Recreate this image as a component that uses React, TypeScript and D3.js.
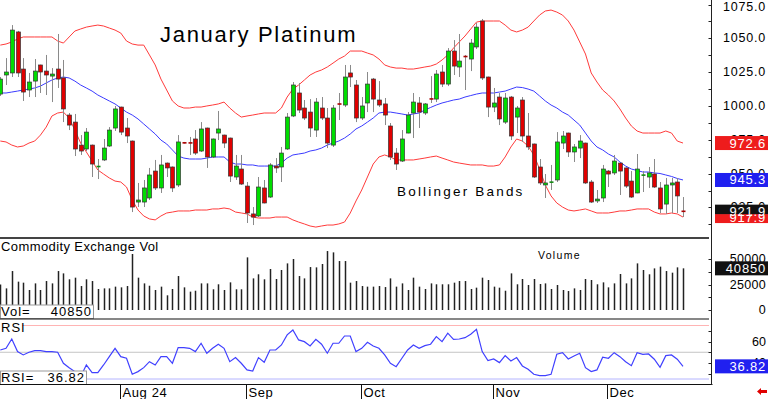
import React from 'react';
import * as d3 from 'd3';

// January Platinum daily candles (Jul .. Dec 2024)
const opens = [
  1008.8, 1022.9, 1024.4, 1054.7, 1027.3, 1011.8, 1018.4, 1030.3, 1025.8, 1022.1,
  1027.3, 1020.7, 993.3, 988.1, 971.1, 968.2, 971.1, 954.9, 960.1, 970.4,
  983.7, 999.2, 983.7, 974.1, 929.0, 929.0, 932.0, 951.9, 939.4, 957.8,
  954.9, 941.6, 972.9, 972.8, 975.6, 966.7, 983.7, 962.3, 980.0, 978.5,
  976.3, 947.5, 953.4, 940.8, 920.2, 918.7, 939.4, 932.7, 955.6, 954.9,
  968.2, 992.6, 1009.6, 998.5, 995.5, 982.2, 998.5, 991.1, 971.1, 1001.7,
  1000.7, 1024.4, 1015.5, 991.1, 1002.2, 1019.9, 1004.4, 1001.5, 985.2, 965.2,
  959.3, 980.0, 994.8, 1002.2, 994.8, 1005.4, 1005.1, 1025.1, 1016.2, 1040.6,
  1028.8, 1036.9, 1034.7, 1043.6, 1062.8, 1021.4, 999.2, 1006.6, 988.1, 1006.6,
  991.8, 1004.4, 977.8, 971.9, 954.9, 941.6, 943.6, 945.3, 972.6, 980.0,
  966.0, 968.9, 972.6, 943.8, 929.8, 932.0, 951.9, 950.5, 957.8, 954.2,
  944.5, 935.7, 948.8, 947.5, 949.7, 939.4, 927.5, 941.6, 943.8, 922.4,
];
const highs = [
  1021.4, 1035.4, 1059.8, 1055.5, 1035.4, 1024.4, 1034.7, 1030.5, 1037.7, 1028.0,
  1053.2, 1034.0, 994.8, 994.1, 978.5, 983.7, 971.5, 960.8, 975.6, 984.4,
  1000.0, 999.5, 991.1, 974.5, 943.1, 945.3, 954.2, 960.1, 963.8, 958.2,
  955.3, 978.5, 973.4, 977.1, 982.2, 988.1, 984.0, 975.9, 996.3, 978.8,
  976.6, 963.8, 963.8, 943.8, 925.3, 947.5, 945.3, 957.8, 961.5, 969.7,
  994.8, 1017.7, 1017.0, 1004.4, 1005.1, 1005.9, 1006.6, 998.5, 1000.7, 1009.6,
  1030.3, 1030.3, 1019.2, 1006.6, 1025.1, 1020.7, 1018.4, 1005.9, 987.4, 968.9,
  982.2, 995.5, 1009.6, 1006.6, 1002.2, 1022.1, 1026.6, 1030.3, 1042.8, 1048.7,
  1053.2, 1037.7, 1049.5, 1061.3, 1064.3, 1021.7, 1013.3, 1009.6, 1009.6, 1007.4,
  1000.0, 1006.6, 994.8, 972.2, 960.8, 949.7, 956.4, 980.7, 981.5, 980.3,
  971.9, 978.5, 972.9, 945.3, 937.9, 956.4, 952.7, 963.8, 958.2, 954.5,
  951.9, 964.5, 951.9, 954.9, 960.8, 943.8, 946.8, 946.8, 946.8, 932.7,
];
const lows = [
  1007.4, 1015.5, 1021.4, 1021.4, 1003.7, 1006.6, 1006.6, 1009.6, 1008.1, 1002.9,
  1013.3, 988.1, 982.2, 963.0, 963.8, 966.7, 947.5, 946.0, 959.3, 969.7,
  981.5, 978.5, 972.6, 921.6, 925.3, 925.3, 930.5, 937.9, 935.7, 947.5,
  936.4, 940.1, 972.2, 963.8, 963.8, 966.0, 954.2, 961.5, 974.8, 968.9,
  943.8, 945.3, 941.6, 913.5, 912.0, 917.9, 928.0, 932.0, 950.5, 943.8,
  967.5, 991.8, 994.8, 989.6, 977.1, 977.1, 989.6, 968.9, 969.7, 989.6,
  999.2, 1014.0, 988.1, 989.6, 995.5, 995.5, 999.2, 985.9, 960.1, 952.7,
  958.6, 979.8, 976.3, 983.7, 993.3, 1002.2, 1002.9, 1014.0, 1014.7, 1022.9,
  1021.4, 1011.8, 1025.8, 1042.1, 1019.2, 991.8, 995.5, 985.9, 986.7, 974.8,
  980.0, 973.4, 967.5, 946.8, 941.6, 932.0, 937.9, 943.8, 968.2, 962.3,
  958.6, 961.5, 942.3, 928.3, 928.3, 929.0, 940.1, 949.0, 934.2, 939.4,
  932.0, 935.5, 936.4, 939.4, 939.4, 920.9, 920.2, 920.9, 920.9, 917.9,
];
const closes = [
  1019.9, 1025.1, 1056.1, 1024.4, 1010.3, 1017.7, 1025.8, 1025.1, 1022.9, 1023.6,
  1019.9, 997.8, 985.9, 968.2, 966.7, 980.7, 957.1, 955.6, 968.9, 982.2,
  997.8, 980.7, 977.8, 925.3, 930.5, 939.4, 949.0, 939.4, 956.4, 954.2,
  939.4, 973.4, 972.6, 972.6, 965.2, 983.0, 962.3, 975.6, 983.0, 972.6,
  948.2, 955.6, 942.3, 920.9, 917.9, 940.1, 928.3, 956.4, 954.2, 965.2,
  991.8, 1015.5, 997.0, 991.1, 983.7, 1002.9, 991.1, 972.6, 998.5, 1001.2,
  1021.4, 1021.4, 991.1, 1000.0, 1016.2, 1005.1, 1000.7, 993.3, 962.3, 957.1,
  975.6, 993.3, 1002.9, 995.5, 1001.5, 1005.0, 1023.6, 1016.2, 1040.6, 1029.5,
  1033.2, 1036.2, 1046.5, 1058.3, 1020.7, 999.2, 1002.2, 990.4, 1005.9, 977.8,
  998.5, 977.8, 969.7, 947.5, 943.1, 943.1, 943.8, 973.4, 977.8, 966.0,
  969.7, 974.1, 943.1, 929.0, 931.2, 953.4, 949.7, 959.3, 951.9, 940.8,
  932.7, 953.4, 949.0, 950.5, 940.1, 923.9, 941.6, 943.1, 933.5, 921.9,
];

// Bollinger bands as drawn on the chart
const bbUpper = [
  1045.0, 1045.8, 1047.3, 1049.5, 1051.0, 1051.0, 1051.0, 1051.0, 1051.0, 1051.0,
  1048.0, 1046.5, 1051.0, 1055.4, 1056.9, 1058.3, 1059.1, 1059.8, 1059.1, 1057.6,
  1056.1, 1053.9, 1048.0, 1045.8, 1045.0, 1045.0, 1037.7, 1030.3, 1019.9, 1011.8,
  1003.7, 1000.0, 998.5, 998.5, 999.2, 999.2, 1000.0, 1000.7, 1001.5, 1002.9,
  998.5, 994.8, 991.8, 992.6, 993.3, 994.1, 994.8, 994.8, 994.8, 998.5,
  1006.6, 1012.5, 1015.5, 1019.2, 1022.9, 1025.1, 1026.6, 1028.8, 1031.7, 1034.7,
  1036.9, 1040.6, 1040.6, 1040.6, 1039.1, 1037.7, 1034.7, 1030.3, 1028.8, 1028.0,
  1028.0, 1027.3, 1027.3, 1028.0, 1028.8, 1029.5, 1031.0, 1034.0, 1037.7, 1042.8,
  1047.3, 1051.7, 1056.9, 1062.0, 1062.8, 1062.8, 1062.8, 1062.8, 1059.8, 1056.1,
  1054.7, 1056.1, 1058.3, 1062.8, 1067.2, 1070.2, 1070.9, 1069.4, 1067.2, 1062.8,
  1056.1, 1047.3, 1038.4, 1024.4, 1017.7, 1011.8, 1008.1, 1003.7, 997.8, 991.1,
  985.2, 981.5, 980.0, 980.0, 980.0, 980.0, 981.5, 980.0, 974.1, 972.6,
];
const bbMiddle = [
  1009.6, 1009.6, 1010.3, 1011.0, 1011.8, 1012.5, 1013.3, 1014.7, 1017.0, 1019.2,
  1020.7, 1021.4, 1020.7, 1018.4, 1015.5, 1013.3, 1011.0, 1008.1, 1005.9, 1003.7,
  1001.5, 998.5, 995.5, 993.3, 990.4, 986.7, 983.0, 979.3, 974.8, 971.9,
  967.5, 963.0, 961.5, 960.8, 960.8, 960.8, 961.5, 962.3, 962.3, 962.3,
  958.6, 957.1, 957.1, 956.4, 956.4, 955.6, 955.6, 955.6, 955.6, 957.8,
  961.5, 963.8, 964.5, 965.2, 966.7, 967.5, 968.9, 971.1, 972.6, 974.1,
  976.3, 979.3, 983.0, 985.2, 988.1, 991.1, 994.8, 995.5, 995.5, 994.8,
  994.1, 993.3, 994.1, 994.8, 997.0, 998.9, 1000.7, 1002.2, 1003.3, 1004.4,
  1005.1, 1006.6, 1007.7, 1008.8, 1009.6, 1009.6, 1009.6, 1010.3, 1011.0, 1012.5,
  1014.0, 1013.6, 1012.5, 1011.0, 1007.4, 1003.7, 1000.7, 998.5, 995.5, 993.3,
  989.6, 985.9, 980.0, 974.1, 969.7, 967.5, 964.5, 962.3, 958.6, 955.6,
  953.4, 952.3, 951.2, 951.2, 950.5, 950.1, 949.0, 947.9, 946.4, 945.3,
];
const bbLower = [
  974.1, 973.4, 971.1, 969.7, 970.4, 972.6, 974.1, 978.5, 984.4, 992.6,
  994.8, 995.5, 991.1, 982.2, 972.6, 966.0, 959.3, 952.7, 949.7, 946.8,
  944.5, 943.8, 940.1, 930.5, 923.1, 918.7, 916.5, 915.8, 918.7, 920.9,
  921.6, 922.4, 922.4, 922.4, 923.1, 923.1, 923.1, 923.9, 923.9, 924.6,
  923.9, 921.6, 920.9, 920.2, 917.9, 917.2, 917.2, 917.2, 917.9, 917.9,
  917.9, 915.8, 914.2, 912.8, 911.3, 910.5, 911.3, 912.0, 912.0, 912.8,
  914.2, 920.9, 929.8, 937.9, 947.5, 957.1, 962.3, 963.8, 962.3, 960.1,
  960.1, 960.1, 960.1, 960.8, 961.5, 962.3, 963.0, 961.5, 960.1, 958.6,
  957.8, 957.1, 956.4, 956.4, 956.4, 955.6, 955.6, 956.4, 962.3, 969.7,
  975.6, 974.1, 970.4, 963.8, 953.4, 941.6, 933.5, 928.3, 925.3, 923.1,
  922.4, 923.1, 923.9, 922.4, 920.9, 920.9, 920.9, 921.6, 922.4, 922.4,
  923.1, 923.9, 923.9, 923.9, 921.6, 920.2, 920.2, 920.9, 920.2, 917.9,
];

const volumes = [
  25000, 21200, 38200, 27800, 26800, 19600, 26100, 19600, 28400, 26100,
  38200, 35900, 30100, 31700, 23500, 30100, 28400, 20600, 21200, 21200,
  22900, 22200, 23500, 54900, 31700, 26100, 23800, 19600, 22900, 14400,
  20600, 33300, 22200, 18000, 18900, 26100, 26100, 20300, 25200, 19600,
  27100, 20300, 20300, 51600, 31000, 35000, 30100, 40200, 30400, 39200,
  45700, 50000, 33300, 31000, 42100, 41800, 45100, 57800, 56500, 48000,
  48000, 26800, 28400, 23500, 22900, 22900, 23500, 22500, 31000, 22900,
  26100, 19600, 31700, 22900, 20600, 26100, 25200, 25200, 25200, 26800,
  28400, 28400, 20600, 21900, 31700, 29400, 22900, 21900, 18900, 35900,
  25200, 30400, 24500, 30400, 25500, 26100, 20600, 24500, 19600, 18600,
  21200, 19600, 30400, 29400, 25200, 27100, 22200, 26100, 35300, 26100,
  31000, 45700, 39200, 35000, 40800, 42500, 38200, 36600, 41800, 40850,
];

const rsi = [
  52.1, 53.7, 62.4, 50.6, 47.5, 50.0, 51.5, 51.5, 50.6, 50.6,
  50.0, 39.7, 35.6, 31.9, 27.2, 38.1, 30.9, 30.9, 38.1, 45.9,
  53.7, 45.9, 44.4, 29.4, 31.9, 35.6, 41.2, 38.1, 45.9, 45.9,
  39.7, 54.3, 54.3, 53.7, 50.6, 58.4, 49.1, 53.7, 57.5, 53.7,
  41.2, 45.0, 39.7, 33.5, 32.5, 45.0, 40.7, 52.1, 52.1, 56.8,
  66.2, 70.8, 61.5, 59.9, 55.9, 62.1, 57.5, 49.1, 58.4, 58.4,
  65.2, 65.2, 50.6, 53.7, 59.3, 55.9, 53.7, 47.5, 39.7, 36.5,
  44.4, 52.1, 56.8, 53.7, 56.2, 57.5, 64.6, 59.9, 67.8, 62.1,
  62.4, 63.6, 66.8, 71.5, 50.6, 42.2, 43.7, 40.3, 46.8, 41.9,
  45.0, 37.2, 34.1, 29.4, 28.1, 28.1, 29.4, 48.1, 49.6, 43.7,
  46.5, 49.1, 35.6, 31.9, 33.5, 45.3, 44.4, 49.6, 45.9, 41.2,
  37.5, 49.6, 48.1, 48.4, 43.5, 36.0, 46.8, 47.5, 43.5, 36.82,
];

const priceTicks = [1075, 1050, 1025, 1000, 975, 950, 925];
const volumeTicks = [50000, 25000, 0];
const rsiTicks = [60, 40];
const rsiLevels = [75, 50, 25];
const monthLabels = ['Aug 24', 'Sep', 'Oct', 'Nov', 'Dec'];
const monthStarts = [21, 43, 63, 86, 106];

const FONT = '"Liberation Sans", Arial, sans-serif';
const UP = '#00dd00';
const DOWN = '#e00000';
const PANEL_R = 709;
const AXIS_X = 711.5;

export default function App() {
  const n = closes.length;
  const x = d3.scaleLinear().domain([0, n - 1]).range([0.3, 683]);
  const yP = d3.scaleLinear().domain([925, 1075]).range([207.45, 4.5]);
  const yV = d3.scaleLinear().domain([0, 50000]).range([310, 259]);
  const yR = d3.scaleLinear().domain([25, 75]).range([379, 325.5]);

  const mkLine = (y: d3.ScaleLinear<number, number>) =>
    d3.line<number>().x((_, i) => x(i)).y(d => y(d));

  const priceLine = mkLine(yP);
  const rsiLine = mkLine(yR);
  const last = n - 1;

  const minorPrice = d3.range(912.5, 1076, 12.5);

  const valueBox = (yc: number, fill: string, label: string, key: string, top = 7, bottom = 7) => (
    <g key={key}>
      <rect x={715} y={yc - top} width={53} height={top + bottom} fill={fill} />
      <text x={766} y={yc} fill="#fff" fontSize={13} textAnchor="end" dominantBaseline="central"
        letterSpacing={0.8} fontFamily={FONT}>{label}</text>
    </g>
  );

  return (
    <div style={{ position: 'absolute', left: 0, top: 0 }}>
      <svg width={768} height={399} style={{ display: 'block', background: '#fff' }}>
        <defs>
          <clipPath id="pclip"><rect x={0} y={0} width={PANEL_R} height={237} /></clipPath>
          <clipPath id="rclip"><rect x={0} y={320} width={PANEL_R} height={64} /></clipPath>
        </defs>

        {/* price panel */}
        <g clipPath="url(#pclip)">
          <text x={160} y={42} fontSize={22} letterSpacing={1.7} fontFamily={FONT} fill="#000">January Platinum</text>
          <text x={397} y={196} fontSize={13.5} letterSpacing={2.2} fontFamily={FONT} fill="#000">Bollinger Bands</text>
          <path d={priceLine(bbUpper) || ''} fill="none" stroke="#ff3b3b" strokeWidth={1} />
          <path d={priceLine(bbLower) || ''} fill="none" stroke="#ff3b3b" strokeWidth={1} />
          <path d={priceLine(bbMiddle) || ''} fill="none" stroke="#3b3bff" strokeWidth={1} />
          {closes.map((c, i) => {
            const o = opens[i];
            const up = c >= o;
            const cx = Math.round(x(i)) + 0.5;
            const top = yP(Math.max(o, c));
            const bot = yP(Math.min(o, c));
            const h = bot - top;
            return (
              <g key={i}>
                <line x1={cx} x2={cx} y1={yP(highs[i])} y2={yP(lows[i])} stroke="#8a8a8a" strokeWidth={1} />
                {h < 1.6 ? (
                  <rect x={cx - 2} y={(top + bot) / 2 - 0.8} width={4} height={1.6} fill={up ? '#118811' : '#aa0000'} />
                ) : (
                  <rect x={cx - 2} y={top} width={4} height={h} fill={up ? UP : DOWN} stroke="#333" strokeWidth={0.7} />
                )}
              </g>
            );
          })}
        </g>
        <line x1={0} x2={PANEL_R} y1={238} y2={238} stroke="#444" strokeWidth={2} />

        {/* volume panel */}
        <text x={1} y={251} fontSize={13} letterSpacing={0.4} fontFamily={FONT} fill="#000">Commodity Exchange Vol</text>
        <text x={538} y={259} fontSize={10.5} letterSpacing={1.3} fontFamily={FONT} fill="#000">Volume</text>
        {volumes.map((v, i) => (
          <line key={i} x1={Math.round(x(i)) + 0.5} x2={Math.round(x(i)) + 0.5} y1={yV(0)} y2={yV(v)}
            stroke="#222" strokeWidth={1.5} />
        ))}
        <g>
          <rect x={0.5} y={305} width={93} height={13.5} fill="#fff" stroke="#999" strokeWidth={1} />
          <text x={1} y={316} fontSize={13} letterSpacing={1} fontFamily={FONT}>Vol=</text>
          <text x={92} y={316} fontSize={13} letterSpacing={1} fontFamily={FONT} textAnchor="end">{volumes[last]}</text>
        </g>
        <line x1={0} x2={PANEL_R} y1={319} y2={319} stroke="#111" strokeWidth={1.2} />

        {/* RSI panel */}
        {rsiLevels.map((lv, k) => (
          <line key={lv} x1={0} x2={PANEL_R} y1={yR(lv)} y2={yR(lv)}
            stroke={k === 0 ? '#ffb4b4' : k === 1 ? '#c4c4c4' : '#b4b4ff'} strokeWidth={1} />
        ))}
        <g clipPath="url(#rclip)">
          <path d={rsiLine(rsi) || ''} fill="none" stroke="#4040ff" strokeWidth={1.2} />
        </g>
        <rect x={0} y={321} width={22} height={12} fill="#fff" />
        <text x={1} y={332} fontSize={13} letterSpacing={1} fontFamily={FONT}>RSI</text>
        <g>
          <rect x={0.5} y={371} width={86} height={13.5} fill="#fff" stroke="#999" strokeWidth={1} />
          <text x={1} y={382} fontSize={13} letterSpacing={1} fontFamily={FONT}>RSI=</text>
          <text x={85} y={382} fontSize={13} letterSpacing={1} fontFamily={FONT} textAnchor="end">{rsi[last].toFixed(2)}</text>
        </g>
        <line x1={0} x2={AXIS_X + 1} y1={384.5} y2={384.5} stroke="#111" strokeWidth={1} />

        {/* month axis */}
        {monthStarts.map((idx, k) => {
          const mx = Math.round(x(idx)) - 0.5;
          return (
            <g key={k}>
              <line x1={mx} x2={mx} y1={385} y2={399} stroke="#111" strokeWidth={1} />
              <text x={mx + 2} y={397} fontSize={13} letterSpacing={0.6} fontFamily={FONT}>{monthLabels[k]}</text>
            </g>
          );
        })}
        <path d="M757,391.5 L761,388 L761,390 L767,390 L767,393 L761,393 L761,395 Z" fill="#e00000" />

        {/* right axis */}
        <line x1={AXIS_X} x2={AXIS_X} y1={0} y2={385} stroke="#222" strokeWidth={1} />
        {minorPrice.map(v => (
          <line key={v} x1={AXIS_X - 3} x2={AXIS_X} y1={Math.round(yP(v)) + 0.5} y2={Math.round(yP(v)) + 0.5} stroke="#222" />
        ))}
        {d3.range(0, 62500, 12500).map(v => (
          <line key={v} x1={AXIS_X - 3} x2={AXIS_X} y1={Math.round(yV(v)) + 0.5} y2={Math.round(yV(v)) + 0.5} stroke="#222" />
        ))}
        {d3.range(30, 80, 10).map(v => (
          <line key={v} x1={AXIS_X - 3} x2={AXIS_X} y1={Math.round(yR(v)) + 0.5} y2={Math.round(yR(v)) + 0.5} stroke="#222" />
        ))}
        {priceTicks.map(v => (
          <text key={v} x={766} y={Math.max(yP(v), 6.5)} fontSize={12.5} letterSpacing={0.8} textAnchor="end"
            dominantBaseline="central" fontFamily={FONT}>{v.toFixed(1)}</text>
        ))}
        {volumeTicks.map(v => (
          <text key={v} x={766} y={yV(v)} fontSize={12.5} letterSpacing={0.3} textAnchor="end"
            dominantBaseline="central" fontFamily={FONT}>{v}</text>
        ))}
        {rsiTicks.map(v => (
          <text key={v} x={766} y={yR(v)} fontSize={12.5} textAnchor="end"
            dominantBaseline="central" fontFamily={FONT}>{v}</text>
        ))}

        {valueBox(yP(bbUpper[last]), '#ee1c1c', bbUpper[last].toFixed(1), 'u')}
        {valueBox(yP(bbMiddle[last]), '#2020f0', bbMiddle[last].toFixed(1), 'm')}
        {valueBox(yP(bbLower[last]), '#ee1c1c', bbLower[last].toFixed(1), 'l', 3, 6)}
        {valueBox(yP(closes[last]), '#111', closes[last].toFixed(1), 'c', 7, 2.5)}
        {valueBox(yV(volumes[last]), '#111', String(volumes[last]), 'v')}
        {valueBox(yR(rsi[last]), '#2020f0', rsi[last].toFixed(2), 'r')}
      </svg>
    </div>
  );
}
